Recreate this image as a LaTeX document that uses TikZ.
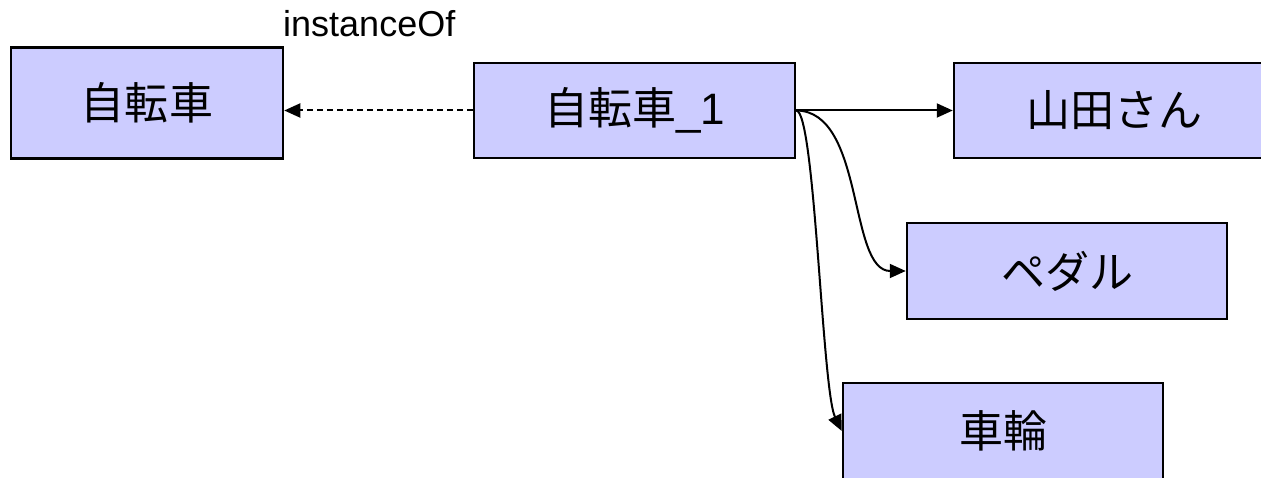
\documentclass[tikz,border=0pt]{standalone}
\usepackage{fontspec}
\setmainfont{Liberation Sans}
\newfontfamily\cjk{Noto Sans CJK JP}
\usetikzlibrary{arrows.meta}
\begin{document}
\begin{tikzpicture}[x=1bp,y=-1bp,
  box/.style={draw=black,line width=2.5bp,fill=boxfill,rectangle,inner sep=0pt,
    font=\fontsize{44bp}{50bp}\selectfont},
  conn/.style={line width=2bp,-{Triangle[length=16bp,width=14bp]}},
  lbl/.style={font=\fontsize{36bp}{40bp}\selectfont,inner sep=0pt}]
\definecolor{boxfill}{HTML}{CCCCFF}
\useasboundingbox (0,0) rectangle (1261,478);
\begin{scope}
\clip (0,0) rectangle (1261,478);
\node[box,minimum width=272bp,minimum height=111bp] (A) at (147,103) {\cjk 自転車};
\node[box,minimum width=321bp,minimum height=95bp] (B) at (634.5,110.5) {{\cjk 自転車}\_1};
\node[box,minimum width=321bp,minimum height=95bp] (Y) at (1114.5,110.5) {\cjk 山田さん};
\node[box,minimum width=320bp,minimum height=96bp] (P) at (1067,271) {\cjk ペダル};
\node[box,minimum width=320bp,minimum height=96bp] (W) at (1003,431) {\cjk 車輪};
\node[lbl,anchor=base west] (L) at (283,37) {instanceOf};
\coordinate (AE) at (B.west -| A.east);
\draw[conn,dash pattern=on 6bp off 4bp] (B.west) -- (AE);
\draw[conn] (B.east) -- (Y.west);
\draw[conn] (B.east) .. controls (865,111) and (848,271) .. (P.west);
\draw[conn] (B.east) .. controls (815,111) and (822,390) .. (W.west);
\end{scope}
\end{tikzpicture}
\end{document}
